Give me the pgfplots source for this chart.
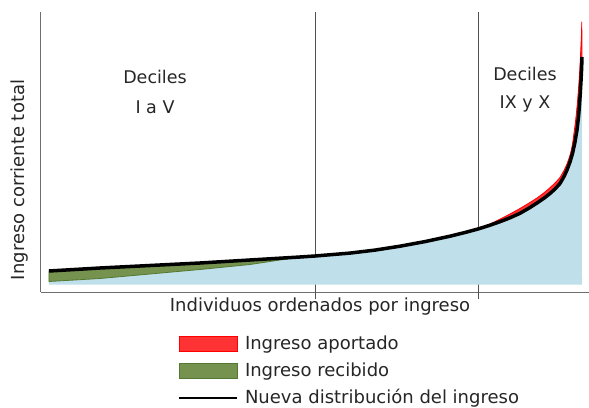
\documentclass[border=0pt]{standalone}
\usepackage{pgfplots}
\pgfplotsset{compat=1.18}
\usepackage{pgfplotstable}
\usepackage{fontspec}
\setmainfont{DejaVu Sans}
\definecolor{areablue}{RGB}{191,224,234}
\definecolor{recgreen}{RGB}{118,146,79}
\definecolor{recgreendk}{RGB}{84,120,50}
\definecolor{apred}{RGB}{255,51,51}
\definecolor{axgray}{RGB}{110,110,110}
\definecolor{vlgray}{RGB}{80,80,80}
\definecolor{txt}{RGB}{38,38,38}

% blue area: original income curve, then the baseline
\pgfplotstableread{
x y
49 125.5
100 128.5
150 133
200 137.5
250 142.5
290 148.5
315 151
350 153.9
375 156.9
400 160.8
425 165.4
450 170.8
465 174.5
478 178
490 183
500 187.8
510 193
520 198.5
530 204.5
537 209
545 215
550 219.3
556 225
560 229.5
564 236.5
567 243
569.5 250
571.5 257.5
572.8 265
574.0 274
575.2 283
576.3 292.5
577.3 303
578.2 314
579.0 325
579.7 336
580.4 349
581.0 362
581.5 374
581.8 385
582 122.5
49 122.5
}\bluearea

% received income (new distribution above original, left)
\pgfplotstableread{
x y
49 136
100 139
150 141.5
200 144
250 147
300 150
315 151
290 148.5
250 142.5
200 137.5
150 133
100 128.5
49 125.5
}\greenarea

% contributed income (original above new distribution, right)
\pgfplotstableread{
x y
478 178
490 183
500 187.8
510 193
520 198.5
530 204.5
537 209
545 215
550 219.3
556 225
560 229.5
564 236.5
567 243
569.5 250
571.5 257.5
572.8 265
574.0 274
575.2 283
576.3 292.5
577.3 303
578.2 314
579.0 325
579.7 336
580.4 349
581.0 362
581.5 374
581.8 385
582 350
581.6 338
581 326
580.3 314
579.5 302
578.5 290
577 277
575 265
572.5 253.5
570 245
567 237
564 230.5
560 223.5
555 218
550 213.5
545 209.5
537 204
530 199.5
520 193.7
510 189.2
500 185.3
490 181.8
478 178
}\redarea

% new income distribution
\pgfplotstableread{
x y
49 136
100 139
150 141.5
200 144
250 147
300 150
315 151
350 153.9
375 156.9
400 160.8
425 165.4
450 170.8
465 174.5
478 178
490 181.8
500 185.3
510 189.2
520 193.7
530 199.5
537 204
545 209.5
550 213.5
555 218
560 223.5
564 230.5
567 237
570 245
572.5 253.5
575 265
577 277
578.5 290
579.5 302
580.3 314
581 326
581.6 338
582 350
}\newdist

\begin{document}
\begin{tikzpicture}[x=1pt,y=1pt]
\useasboundingbox (0,0) rectangle (589,407);
\begin{axis}[
  at={(41pt,115pt)}, anchor=south west,
  scale only axis, width=548pt, height=280pt,
  xmin=41, xmax=589, ymin=115, ymax=395,
  axis x line=bottom, axis y line=left,
  axis line style={-, draw=axgray, line width=1pt},
  xtick=\empty, ytick=\empty,
  clip=false,
  legend cell align=left,
  legend style={
    at={(0.25,-0.1536)}, anchor=north west,
    draw=none, fill=none, inner sep=0pt, outer sep=0pt,
    font=\fontsize{18}{21}\selectfont\color{txt},
    row sep=9pt, column sep=7pt,
    nodes={inner sep=0pt, text height=14pt, text depth=4pt},
  },
]
\addlegendimage{legend image code/.code={\draw[fill=apred, draw=red, line width=0.8pt] (0pt,-7pt) rectangle (58pt,8pt);}}
\addlegendentry{Ingreso aportado}
\addlegendimage{legend image code/.code={\draw[fill=recgreen, draw=recgreendk, line width=0.8pt] (0pt,-7pt) rectangle (58pt,8pt);}}
\addlegendentry{Ingreso recibido}
\addlegendimage{legend image code/.code={\draw[black, line width=2pt] (0pt,0pt) -- (58pt,0pt);}}
\addlegendentry{Nueva distribución del ingreso}

\addplot[forget plot, vlgray, line width=0.8pt] coordinates {(315,108) (315,395)};
\addplot[forget plot, vlgray, line width=0.8pt] coordinates {(478,108) (478,395)};

\addplot[forget plot, fill=areablue, draw=none] table {\bluearea} -- cycle;
\addplot[forget plot, fill=recgreen, draw=recgreendk, line width=0.8pt, line join=round] table {\greenarea} -- cycle;
\addplot[forget plot, fill=apred, draw=red, line width=0.8pt, line join=round] table {\redarea} -- cycle;
\addplot[forget plot, black, line width=3.5pt, line join=round] table {\newdist};

\node[anchor=base, text=txt, font=\fontsize{17.5}{21}\selectfont] at (axis cs:155,323) {Deciles};
\node[anchor=base, text=txt, font=\fontsize{17.5}{21}\selectfont] at (axis cs:155,293) {I a V};
\node[anchor=base, text=txt, font=\fontsize{17.5}{21}\selectfont] at (axis cs:525,326) {Deciles};
\node[anchor=base, text=txt, font=\fontsize{17.5}{21}\selectfont] at (axis cs:525,298) {IX y X};
\node[anchor=base, text=txt, font=\fontsize{18}{21}\selectfont] at (axis cs:320,96) {Individuos ordenados por ingreso};
\node[anchor=base, rotate=90, text=txt, font=\fontsize{18}{21}\selectfont] at (axis cs:25,227) {Ingreso corriente total};
\end{axis}
\end{tikzpicture}
\end{document}
